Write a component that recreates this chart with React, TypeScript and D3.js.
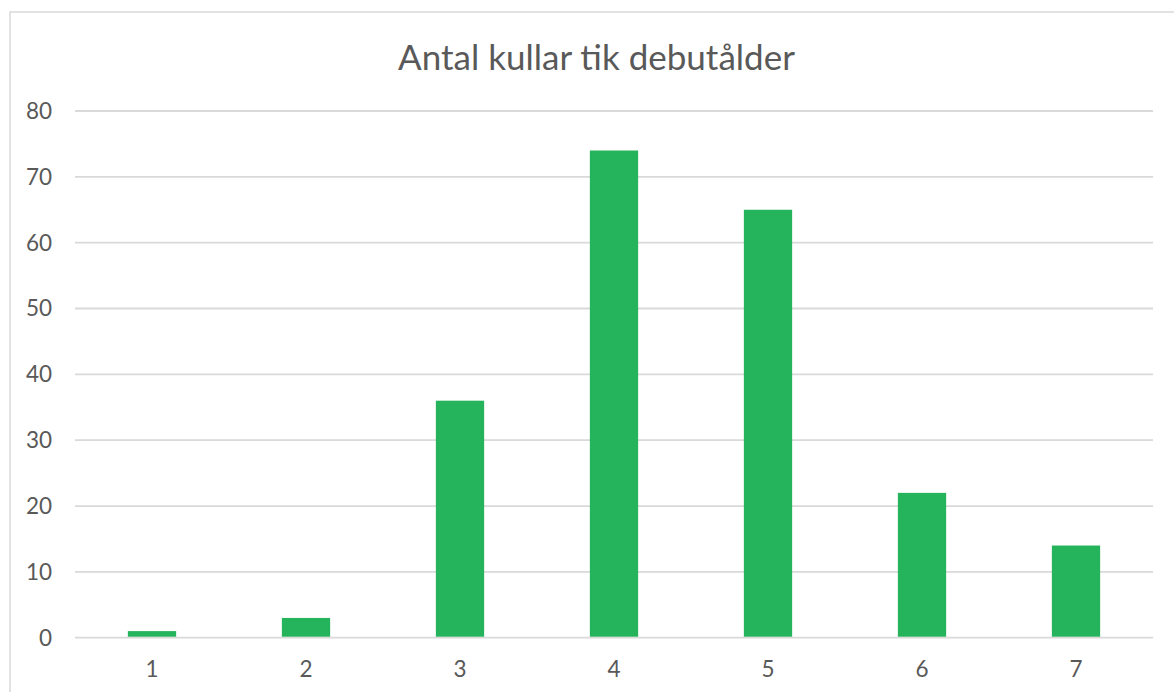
import { useEffect } from "react";
import * as d3 from "d3";

// Data
const categories = ["1", "2", "3", "4", "5", "6", "7"];
const counts = [1, 3, 36, 74, 65, 22, 14];
const yTicks = [0, 10, 20, 30, 40, 50, 60, 70, 80];
const title = "Antal kullar tik debutålder";

const W = 1174;
const H = 692;
const margin = { left: 75, right: 21, top: 111, bottom: 54 };
const FONT = "Lato, 'Open Sans', sans-serif";
const TEXT = "#595959";
const GRID = "#D9D9D9";
const BAR = "#25B35B";

export default function App() {
  useEffect(() => {
    document.body.style.margin = "0";
  }, []);

  const x = d3
    .scaleBand()
    .domain(categories)
    .range([margin.left, W - margin.right])
    .paddingInner(0.6865)
    .paddingOuter(0.34325);

  const y = d3
    .scaleLinear()
    .domain([0, 80])
    .range([H - margin.bottom - 0.3, margin.top]);

  // category slot (for label centring)
  const slot = d3.scaleBand().domain(categories).range([margin.left, W - margin.right]);

  return (
    <svg width={W} height={H} style={{ position: "absolute", left: 0, top: 0, background: "#fff" }}>
      {/* chart frame, cut off at right and bottom like the source */}
      <rect x={10} y={12} width={W} height={H} fill="#fff" stroke={GRID} strokeWidth={1.5} />

      <text
        x={(398 + 795) / 2}
        y={69.5}
        textAnchor="middle"
        style={{ fontFamily: FONT, fontSize: 35, fill: TEXT }}
      >
        {title}
      </text>

      {/* gridlines + y labels */}
      {yTicks.map((t) => (
        <g key={t}>
          <line
            x1={margin.left}
            x2={W - margin.right}
            y1={y(t)}
            y2={y(t)}
            stroke={GRID}
            strokeWidth={1.8}
          />
          <text
            x={52}
            y={y(t)}
            dy="0.35em"
            textAnchor="end"
            style={{ fontFamily: FONT, fontSize: 22.5, fill: TEXT }}
          >
            {t}
          </text>
        </g>
      ))}

      {/* bars */}
      {counts.map((v, i) => (
        <rect
          key={categories[i]}
          x={x(categories[i])}
          y={y(v)}
          width={x.bandwidth()}
          height={y(0) - y(v) - 1}
          fill={BAR}
        />
      ))}

      {/* x labels */}
      {categories.map((c) => (
        <text
          key={c}
          x={(slot(c) as number) + slot.bandwidth() / 2}
          y={669}
          dy="0.35em"
          textAnchor="middle"
          style={{ fontFamily: FONT, fontSize: 22.5, fill: TEXT }}
        >
          {c}
        </text>
      ))}
    </svg>
  );
}
